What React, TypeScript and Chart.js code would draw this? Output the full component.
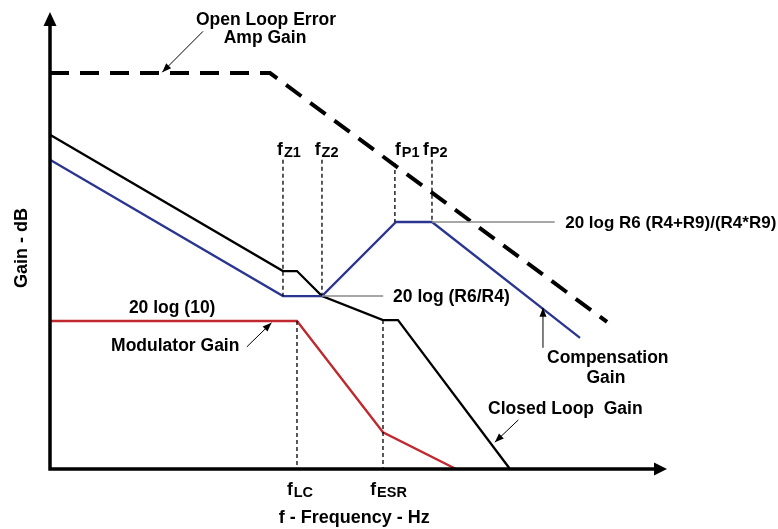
import React, { useEffect, useRef } from "react";
import { Chart, registerables } from "chart.js";

Chart.register(...registerables);

// ---- Data (x: relative log-frequency units, y: relative gain units) ----
const openLoopX = [0, 35.66, 90.28];
const openLoopY = [87.2, 87.2, 32.4];

const closedLoopX = [0, 37.76, 40.03, 44.08, 53.97, 56.4, 74.55];
const closedLoopY = [73.6, 43.6, 43.6, 38.1, 32.8, 32.8, 0];

const compensationX = [0, 37.76, 44.08, 56.08, 61.91, 85.9];
const compensationY = [68.1, 38.1, 38.1, 54.4, 54.4, 28.9];

const modulatorX = [0, 40.03, 53.97, 65.8];
const modulatorY = [32.6, 32.6, 8.1, 0];

// break frequencies (vertical dashed markers)
const markerNames = ["Z1", "Z2", "P1", "P2", "LC", "ESR"];
const markerFreq = [37.76, 44.08, 55.9, 61.91, 40.03, 53.97];
const markerTop = [68.1, 68.1, 67.4, 68.1, 32.6, 32.8];
const markerBottom = [38.1, 38.1, 54.4, 54.4, 0, 0];

// reference gain levels (thin grey lines)
const levelY = [54.4, 38.1];
const levelStart = [61.91, 44.08];
const levelEnd = [81.8, 54.0];

const FONT = '"Liberation Sans", Arial, Helvetica, sans-serif';

type Pt = { x: number; y: number };
const zip = (xs: number[], ys: number[]): Pt[] => xs.map((x, i) => ({ x, y: ys[i] }));

// annotation texts (positions in data units)
const texts = [
  { t: "Open Loop Error", x: 35.0, y: 97.8, align: "center", size: 17.5 },
  { t: "Amp Gain", x: 34.85, y: 93.8, align: "center", size: 17.5 },
  { t: "20 log (10)", x: 19.8, y: 34.4, align: "center", size: 17.5 },
  { t: "Modulator Gain", x: 20.3, y: 26.0, align: "center", size: 17.5 },
  { t: "20 log (R6/R4)", x: 55.6, y: 36.8, align: "left", size: 17.5 },
  { t: "20 log R6 (R4+R9)/(R4*R9)", x: 83.5, y: 53.1, align: "left", size: 17 },
  { t: "Compensation", x: 90.4, y: 23.3, align: "center", size: 17.5 },
  { t: "Gain", x: 90.1, y: 18.9, align: "center", size: 17.5 },
  { t: "Closed Loop  Gain", x: 71.0, y: 12.1, align: "left", size: 17.5 },
];

// pointer arrows [x1,y1,x2,y2] in data units; head at second point
const pointers = [
  [24.8, 96.4, 18.2, 87.4],
  [31.9, 26.9, 35.9, 32.2],
  [79.9, 26.7, 79.9, 35.5],
  [75.9, 10.8, 72.1, 5.9],
];

// label anchors for frequency markers (left x in data units, baseline y)
const markerLabelX = [36.8, 42.9, 55.9, 60.45, 38.4, 51.9];
const markerLabelY = [69.2, 69.2, 69.2, 69.2, -5.7, -5.7];

function arrowHead(
  ctx: CanvasRenderingContext2D,
  x1: number, y1: number, x2: number, y2: number,
  len: number, half: number
) {
  const a = Math.atan2(y2 - y1, x2 - x1);
  ctx.beginPath();
  ctx.moveTo(x2, y2);
  ctx.lineTo(x2 - len * Math.cos(a) + half * Math.sin(a), y2 - len * Math.sin(a) - half * Math.cos(a));
  ctx.lineTo(x2 - len * Math.cos(a) - half * Math.sin(a), y2 - len * Math.sin(a) + half * Math.cos(a));
  ctx.closePath();
  ctx.fill();
}

const diagramPlugin = {
  id: "diagram",
  afterDraw(chart: any) {
    const ctx: CanvasRenderingContext2D = chart.ctx;
    const xs = chart.scales.x;
    const ys = chart.scales.y;
    const X = (v: number) => xs.getPixelForValue(v);
    const Y = (v: number) => ys.getPixelForValue(v);
    const ca = chart.chartArea;
    ctx.save();
    ctx.fillStyle = "#000";
    ctx.strokeStyle = "#000";

    // axes
    const ox = X(0);
    const oy = Y(0);
    ctx.lineWidth = 3.5;
    ctx.lineCap = "butt";
    ctx.beginPath();
    ctx.moveTo(ox, oy + 1.75);
    ctx.lineTo(ox, ca.top + 10);
    ctx.moveTo(ox - 1.75, oy);
    ctx.lineTo(ca.right - 10, oy);
    ctx.stroke();
    arrowHead(ctx, ox, oy, ox, ca.top - 3, 14, 6.5);
    arrowHead(ctx, ox, oy, ca.right, oy, 13, 6.5);

    // pointer arrows
    ctx.lineWidth = 1;
    pointers.forEach(([a, b, c, d]) => {
      const x1 = X(a), y1 = Y(b), x2 = X(c), y2 = Y(d);
      ctx.beginPath();
      ctx.moveTo(x1, y1);
      ctx.lineTo(x2, y2);
      ctx.stroke();
      arrowHead(ctx, x1, y1, x2, y2, 9, 3.5);
    });

    // texts
    ctx.textBaseline = "alphabetic";
    texts.forEach((o) => {
      ctx.font = `bold ${o.size}px ${FONT}`;
      ctx.textAlign = o.align as CanvasTextAlign;
      ctx.fillText(o.t, X(o.x), Y(o.y));
    });

    // frequency marker labels
    ctx.textAlign = "left";
    markerNames.forEach((n, i) => {
      const lx = X(markerLabelX[i]);
      const ly = Y(markerLabelY[i]);
      ctx.font = `bold 17.5px ${FONT}`;
      ctx.fillText("f", lx, ly);
      const w = ctx.measureText("f").width;
      ctx.font = `bold 14.5px ${FONT}`;
      ctx.fillText(n, lx + w + 1, ly + 2);
    });

    // axis titles
    ctx.font = `bold 18px ${FONT}`;
    ctx.textAlign = "center";
    ctx.fillText("f - Frequency - Hz", X(49.3), Y(-11.9));
    ctx.save();
    ctx.translate(X(-4.86) + 2, Y(48.7));
    ctx.rotate(-Math.PI / 2);
    ctx.textBaseline = "middle";
    ctx.fillText("Gain - dB", 0, 0);
    ctx.restore();

    ctx.restore();
  },
};

export default function App() {
  const ref = useRef<HTMLCanvasElement | null>(null);
  useEffect(() => {
    if (!ref.current) return;
    const markerSets = markerNames.map((n, i) => ({
      label: "f" + n,
      data: [
        { x: markerFreq[i], y: markerTop[i] },
        { x: markerFreq[i], y: markerBottom[i] },
      ],
      borderColor: "#000",
      borderWidth: 1.3,
      borderDash: [4, 3],
      pointRadius: 0,
      clip: false as any,
    }));
    const levelSets = levelY.map((y, i) => ({
      label: "level" + i,
      data: [
        { x: levelStart[i], y },
        { x: levelEnd[i], y },
      ],
      borderColor: "#8a8a8a",
      borderWidth: 1.5,
      pointRadius: 0,
      clip: false as any,
    }));
    const chart = new Chart(ref.current, {
      type: "line",
      data: {
        datasets: [
          ...levelSets,
          ...markerSets,
          {
            label: "Modulator Gain",
            data: zip(modulatorX, modulatorY),
            borderColor: "#c0282d",
            borderWidth: 2.3,
            pointRadius: 0,
            clip: false as any,
          },
          {
            label: "Compensation Gain",
            data: zip(compensationX, compensationY),
            borderColor: "#2a3590",
            borderWidth: 2.3,
            pointRadius: 0,
            clip: false as any,
          },
          {
            label: "Closed Loop Gain",
            data: zip(closedLoopX, closedLoopY),
            borderColor: "#000",
            borderWidth: 2.3,
            pointRadius: 0,
            clip: false as any,
          },
          {
            label: "Open Loop Error Amp Gain",
            data: zip(openLoopX, openLoopY),
            borderColor: "#000",
            borderWidth: 4,
            borderDash: [19, 11],
            pointRadius: 0,
            clip: false as any,
          },
        ] as any,
      },
      options: {
        animation: false,
        responsive: false,
        devicePixelRatio: 1,
        layout: { padding: { left: 50, right: 111, top: 15, bottom: 60 } },
        scales: {
          x: { type: "linear", min: 0, max: 100, display: false },
          y: { type: "linear", min: 0, max: 100, display: false },
        },
        plugins: {
          legend: { display: false },
          tooltip: { enabled: false },
        },
        elements: { line: { tension: 0 } },
      },
      plugins: [diagramPlugin],
    });
    return () => chart.destroy();
  }, []);
  return (
    <div style={{ position: "fixed", left: 0, top: 0, width: 778, height: 529, background: "#fff" }}>
      <canvas ref={ref} width={778} height={529} style={{ width: 778, height: 529 }} />
    </div>
  );
}
